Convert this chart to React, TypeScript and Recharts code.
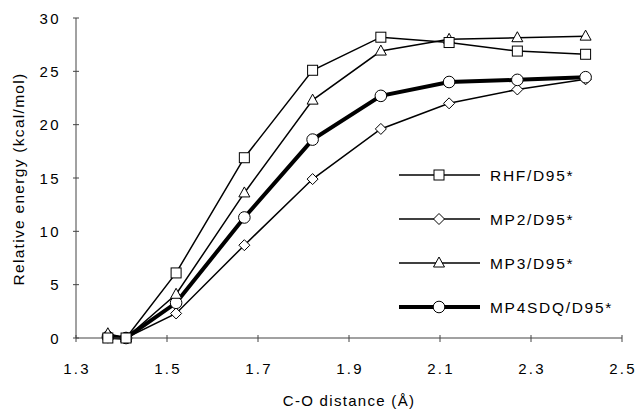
import React from "react";
import { LineChart, Line, XAxis, YAxis } from "recharts";

const distances = [1.37, 1.41, 1.52, 1.67, 1.82, 1.97, 2.12, 2.27, 2.42];
const rhf = [0.0, 0.0, 6.1, 16.9, 25.1, 28.2, 27.7, 26.9, 26.6];
const mp2 = [0.3, 0.0, 2.3, 8.7, 14.9, 19.6, 22.0, 23.3, 24.25];
const mp3 = [0.4, 0.0, 4.1, 13.6, 22.3, 26.9, 28.0, 28.15, 28.3];
const mp4 = [0.1, 0.0, 3.3, 11.3, 18.6, 22.7, 24.0, 24.2, 24.45];
const xTicks = [1.3, 1.5, 1.7, 1.9, 2.1, 2.3, 2.5];
const yTicks = [0, 5, 10, 15, 20, 25, 30];

const seriesNames = ["RHF/D95*", "MP2/D95*", "MP3/D95*", "MP4SDQ/D95*"];

const data = distances.map((d, i) => ({
  x: d,
  rhf: rhf[i],
  mp2: mp2[i],
  mp3: mp3[i],
  mp4: mp4[i],
}));

const FONT = "'Liberation Sans', Arial, Helvetica, sans-serif";

type Shape = "square" | "diamond" | "triangle" | "circle";

function Marker({ cx, cy, shape }: { cx: number; cy: number; shape: Shape }) {
  const common = { fill: "#fff", stroke: "#000", strokeWidth: 1 };
  if (shape === "square") {
    return <rect x={cx - 5} y={cy - 5} width={10} height={10} {...common} />;
  }
  if (shape === "diamond") {
    return (
      <polygon
        points={`${cx},${cy - 5.5} ${cx + 5.5},${cy} ${cx},${cy + 5.5} ${cx - 5.5},${cy}`}
        {...common}
      />
    );
  }
  if (shape === "triangle") {
    return (
      <polygon
        points={`${cx},${cy - 6} ${cx + 5.5},${cy + 4} ${cx - 5.5},${cy + 4}`}
        {...common}
      />
    );
  }
  return <circle cx={cx} cy={cy} r={5.8} {...common} />;
}

const makeDot = (shape: Shape) => (props: any) => {
  const { cx, cy, index } = props;
  if (cx == null || cy == null) return <g key={`e-${index}`} />;
  return (
    <g key={`${shape}-${index}`}>
      <Marker cx={cx} cy={cy} shape={shape} />
    </g>
  );
};

const XTick = (props: any) => {
  const { x, y, payload } = props;
  return (
    <g>
      <line x1={x} x2={x} y1={y - 3} y2={y + 4} stroke="#444" strokeWidth={1} />
      <text
        x={x + 1}
        y={y + 36}
        textAnchor="middle"
        fontFamily={FONT}
        fontSize={15}
        letterSpacing={2.2}
        fill="#000"
      >
        {payload.value.toFixed(1)}
      </text>
    </g>
  );
};

const YTick = (props: any) => {
  const { x, y, payload } = props;
  return (
    <g>
      <line x1={x - 3} x2={x + 3} y1={y} y2={y} stroke="#444" strokeWidth={1} />
      <text
        x={x - 15}
        y={y + 5.5}
        textAnchor="end"
        fontFamily={FONT}
        fontSize={15}
        letterSpacing={2.4}
        fill="#000"
      >
        {payload.value}
      </text>
    </g>
  );
};

const legendItems: { name: string; shape: Shape; width: number }[] = [
  { name: seriesNames[0], shape: "square", width: 1.5 },
  { name: seriesNames[1], shape: "diamond", width: 1.5 },
  { name: seriesNames[2], shape: "triangle", width: 1.5 },
  { name: seriesNames[3], shape: "circle", width: 4 },
];

export default function App() {
  return (
    <div style={{ position: "absolute", left: 0, top: 0, width: 638, height: 410, background: "#fff" }}>
      <LineChart
        width={638}
        height={410}
        data={data}
        margin={{ top: 18, right: 16, left: 16, bottom: 42 }}
      >
        <XAxis
          dataKey="x"
          type="number"
          domain={[1.3, 2.5]}
          ticks={xTicks}
          tick={<XTick />}
          tickLine={false}
          tickSize={0}
          tickMargin={0}
          height={30}
          axisLine={{ stroke: "#444", strokeWidth: 1 }}
          allowDataOverflow
        />
        <YAxis
          type="number"
          domain={[0, 30]}
          ticks={yTicks}
          tick={<YTick />}
          tickLine={false}
          tickSize={0}
          tickMargin={0}
          width={60}
          axisLine={{ stroke: "#444", strokeWidth: 1 }}
        />
        <Line
          dataKey="mp2"
          name={seriesNames[1]}
          stroke="#000"
          strokeWidth={1.5}
          dot={makeDot("diamond")}
          isAnimationActive={false}
        />
        <Line
          dataKey="mp4"
          name={seriesNames[3]}
          stroke="#000"
          strokeWidth={4}
          dot={makeDot("circle")}
          isAnimationActive={false}
        />
        <Line
          dataKey="mp3"
          name={seriesNames[2]}
          stroke="#000"
          strokeWidth={1.5}
          dot={makeDot("triangle")}
          isAnimationActive={false}
        />
        <Line
          dataKey="rhf"
          name={seriesNames[0]}
          stroke="#000"
          strokeWidth={1.5}
          dot={makeDot("square")}
          isAnimationActive={false}
        />
        <g>
          {legendItems.map((it, i) => {
            const y = 175 + i * 44;
            return (
              <g key={it.name}>
                <line x1={399} x2={480} y1={y} y2={y} stroke="#000" strokeWidth={it.width} />
                <Marker cx={439} cy={y} shape={it.shape} />
                <text
                  x={490}
                  y={y + 5.5}
                  fontFamily={FONT}
                  fontSize={15.5}
                  letterSpacing={1.7}
                  fill="#000"
                >
                  {it.name}
                </text>
              </g>
            );
          })}
        </g>
        <text
          x={24}
          y={179}
          transform="rotate(-90 24 179)"
          textAnchor="middle"
          fontFamily={FONT}
          fontSize={15.5}
          letterSpacing={1.3}
          fill="#000"
        >
          Relative energy (kcal/mol)
        </text>
        <text
          x={349}
          y={406}
          textAnchor="middle"
          fontFamily={FONT}
          fontSize={15}
          letterSpacing={1.3}
          fill="#000"
        >
          C-O distance (Å)
        </text>
      </LineChart>
    </div>
  );
}
